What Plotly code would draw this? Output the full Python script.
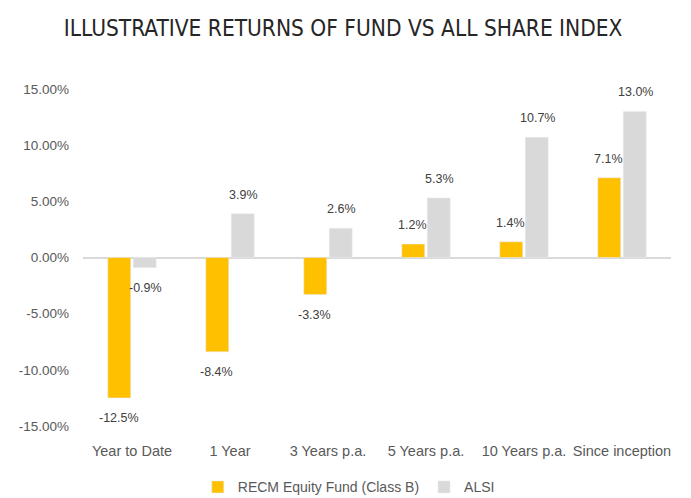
import plotly.graph_objects as go

categories = ["Year to Date", "1 Year", "3 Years p.a.", "5 Years p.a.", "10 Years p.a.", "Since inception"]
fund_values = [-12.5, -8.4, -3.3, 1.2, 1.4, 7.1]
alsi_values = [-0.9, 3.9, 2.6, 5.3, 10.7, 13.0]
tick_values = [-15, -10, -5, 0, 5, 10, 15]
tick_labels = ["-15.00%", "-10.00%", "-5.00%", "0.00%", "5.00%", "10.00%", "15.00%"]
series_names = ["RECM Equity Fund (Class B)", "ALSI"]
series_colors = ["#FFC000", "#D9D9D9"]

base_family = "Liberation Sans, Arial, sans-serif"
label_font = dict(family=base_family, size=12.5, color="#404040")
xaxis_font = dict(family=base_family, size=14.5, color="#595959")
yaxis_font = dict(family=base_family, size=13.5, color="#595959")

fig = go.Figure()
for name, vals, col in zip(series_names, [fund_values, alsi_values], series_colors):
    fig.add_trace(go.Bar(x=categories, y=vals, name=name, marker_color=col))

# data labels
for vals, xs in [(fund_values, -13.5), (alsi_values, 13.5)]:
    for c, v in zip(categories, vals):
        fig.add_annotation(
            x=c, y=v, text=f"{v:.1f}%", showarrow=False,
            xshift=xs, yshift=19 if v >= 0 else -20,
            xanchor="center", yanchor="middle", font=label_font,
        )

fig.update_layout(
    width=691, height=498,
    paper_bgcolor="white", plot_bgcolor="white",
    margin=dict(l=75, r=28, t=81, b=80, autoexpand=False),
    barmode="group", bargap=0.48, bargroupgap=0.1,
    title=dict(
        text="ILLUSTRATIVE RETURNS OF FUND VS ALL SHARE INDEX",
        x=0.485, xanchor="center", y=1 - 20 / 498, yanchor="middle",
        font=dict(family="DejaVu Sans Condensed, DejaVu Sans, sans-serif", size=22.5, color="#262626"),
    ),
    showlegend=True,
    legend=dict(
        orientation="h", x=0.452, xanchor="center", y=-0.182, yanchor="middle",
        font=dict(family=base_family, size=14, color="#595959"),
        itemwidth=30, traceorder="normal",
    ),
)
fig.update_xaxes(
    showgrid=False, showline=False, ticks="", tickfont=xaxis_font, zeroline=False,
    ticklabelstandoff=14,
)
fig.update_yaxes(
    range=[-15, 15], tickvals=tick_values, ticktext=tick_labels,
    showgrid=False, showline=False, zeroline=True, zerolinecolor="#D9D9D9", zerolinewidth=1.5,
    tickfont=yaxis_font, ticks="", ticklabelstandoff=13,
)

fig.write_html("out.html")
